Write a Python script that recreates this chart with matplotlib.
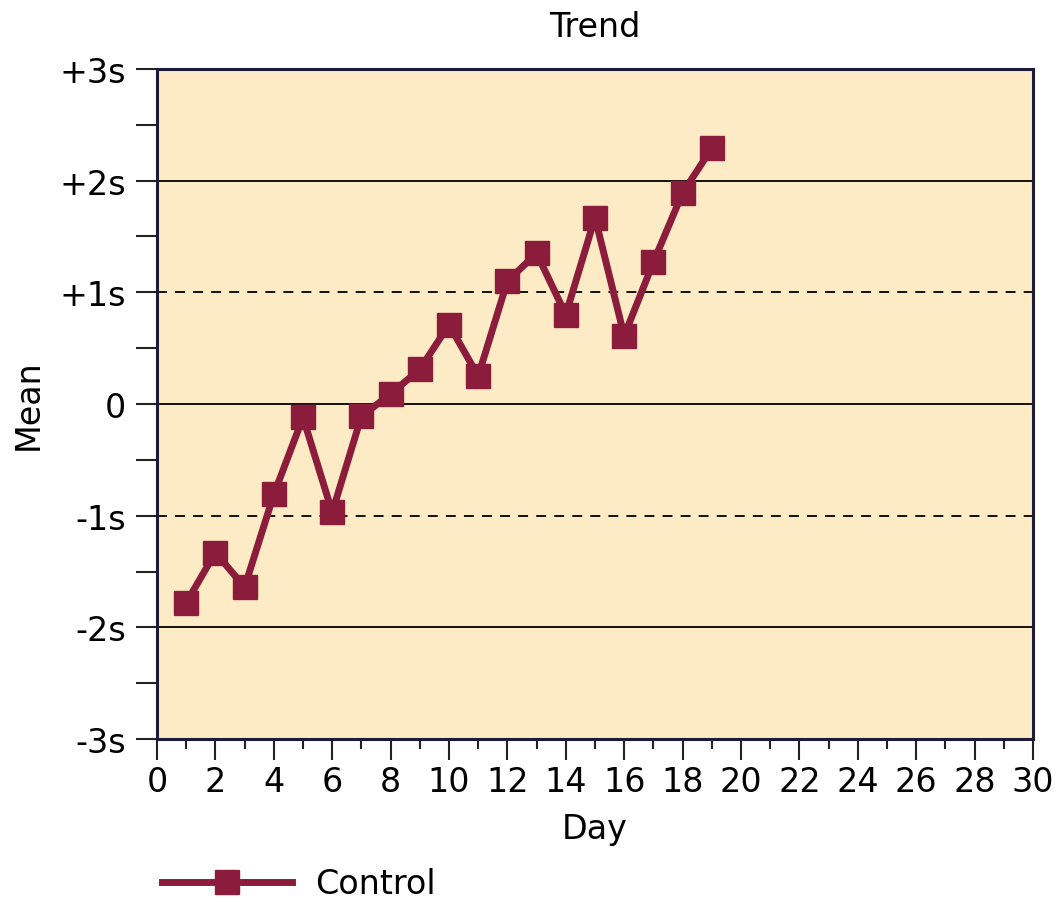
# Levey-Jennings style trend chart for one control over 19 days
import matplotlib
matplotlib.use("Agg")
import matplotlib.pyplot as plt
from matplotlib.ticker import MultipleLocator

plt.rcParams["font.family"] = ["DejaVu Sans"]

# data (in SD units from the mean)
days = list(range(1, 20))
values = [-1.78, -1.33, -1.64, -0.81, -0.12, -0.97, -0.11, 0.09, 0.31, 0.71,
          0.25, 1.10, 1.35, 0.80, 1.67, 0.61, 1.27, 1.89, 2.29]
sd_ticks = [-3, -2, -1, 0, 1, 2, 3]
sd_labels = ["-3s", "-2s", "-1s", "0", "+1s", "+2s", "+3s"]
solid_lines = [-2, 0, 2]
dashed_lines = [-1, 1]

line_color = "#8c1c3c"
bg_color = "#fcebc4"
frame_color = "#1c1c3a"

fig = plt.figure(figsize=(10.56, 9.03), dpi=100)
ax = fig.add_axes([0.1487, 0.1805, 0.8295, 0.742])
ax.set_facecolor(bg_color)

for y in solid_lines:
    ax.axhline(y, color="black", lw=1.3, zorder=1)
for y in dashed_lines:
    ax.axhline(y, color="black", lw=1.3, ls=(0, (5.5, 4.5)), zorder=1)

ax.plot(days, values, color=line_color, lw=5, marker="s", markersize=17.5,
        markerfacecolor=line_color, markeredgecolor=line_color, label="Control",
        zorder=3)

ax.set_xlim(0, 30)
ax.set_ylim(-3, 3)
ax.xaxis.set_major_locator(MultipleLocator(2))
ax.xaxis.set_minor_locator(MultipleLocator(1))
ax.set_yticks(sd_ticks)
ax.set_yticklabels(sd_labels)
ax.yaxis.set_minor_locator(MultipleLocator(0.5))

ax.tick_params(axis="both", which="major", labelsize=24, width=1.5,
               length=15, direction="out", color="#222222", pad=4)
ax.tick_params(axis="y", which="major", pad=7)
ax.tick_params(axis="y", which="minor", width=1.5, length=15, color="#222222")
ax.tick_params(axis="x", which="minor", width=1.5, length=7, color="#222222")

for s in ax.spines.values():
    s.set_color(frame_color)
    s.set_linewidth(2.2)

ax.set_title("Trend", fontsize=24, pad=24)
ax.set_xlabel("Day", fontsize=24, labelpad=10)
ax.set_ylabel("Mean", fontsize=24, labelpad=11)

fig.legend(loc="center left", bbox_to_anchor=(0.141, 0.02), frameon=False,
           fontsize=24, handlelength=3.9, handletextpad=0.7, borderaxespad=0)

fig.savefig("out.png", dpi=100)
